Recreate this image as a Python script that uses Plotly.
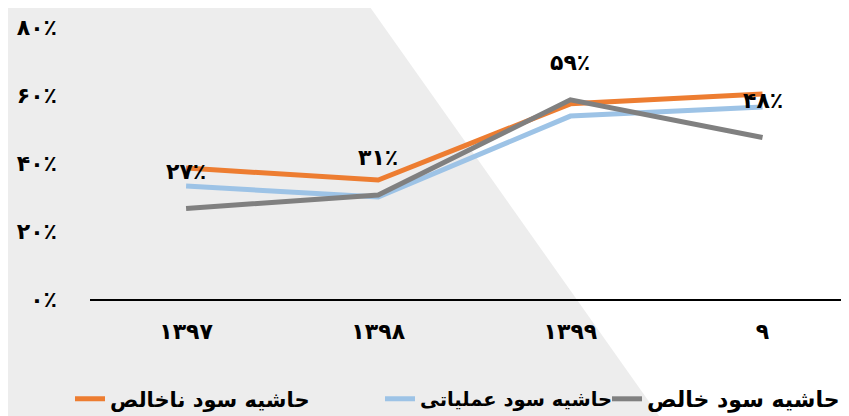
import plotly.graph_objects as go

years = ['۱۳۹۷', '۱۳۹۸', '۱۳۹۹', '۹']
gross_margin = [38.5, 35.0, 57.4, 60.3]      # حاشیه سود ناخالص
operating_margin = [33.2, 30.0, 53.8, 56.5]  # حاشیه سود عملیاتی
net_margin = [26.6, 30.6, 58.6, 47.5]        # حاشیه سود خالص
net_labels = ['۲۷٪', '۳۱٪', '۵۹٪', '۴۸٪']
y_ticks = [0, 20, 40, 60, 80]
y_tick_text = ['۰٪', '۲۰٪', '۴۰٪', '۶۰٪', '۸۰٪']

# page body has an 8px margin, so the figure starts at (8, 8) in the window
OFF = 8
W, H = 849 - OFF, 416 - OFF
L, R, T, B = 90 - OFF, 0, 27 - OFF, 416 - 299
pw, ph = W - L - R, H - T - B

def px2paper(x, y):
    # window pixels -> paper coords
    x, y = x - OFF, y - OFF
    return (x - L) / pw, (H - B - y) / ph

FONT = 'DejaVu Sans'
big = dict(family=FONT, size=21, color='black', weight='bold')
tick = dict(family=FONT, size=22, color='black', weight='bold')

fig = go.Figure()
series = [
    ('حاشیه سود ناخالص', gross_margin, '#ED7D31', 'legend', 70, 21),
    ('حاشیه سود عملیاتی', operating_margin, '#9DC3E6', 'legend2', 380, 19.5),
    ('حاشیه سود خالص', net_margin, '#808080', 'legend3', 607, 22),
]
for name, vals, col, lg, _, _ in series:
    fig.add_trace(go.Scatter(x=years, y=vals, name=name, mode='lines', legend=lg,
                             line=dict(color=col, width=5)))

for yr, v, t in zip(years, net_margin, net_labels):
    fig.add_annotation(x=yr, y=v, text=t, showarrow=False, yshift=37, font=tick)

# gray diagonal background
pts = [px2paper(0, 0), px2paper(365, 0), px2paper(662, 420), px2paper(0, 420)]
path = 'M ' + ' L '.join(f'{a},{b}' for a, b in pts) + ' Z'
fig.add_shape(type='path', path=path, xref='paper', yref='paper',
              fillcolor='#ededed', line=dict(width=0), layer='below')

legends = {}
for _, _, _, lg, lx, fs in series:
    legends[lg] = dict(orientation='h', xref='container', yref='container',
                       x=(lx - OFF) / W, y=1 - (399 - OFF) / H,
                       xanchor='left', yanchor='middle',
                       font=dict(big, size=fs), bgcolor='rgba(0,0,0,0)',
                       itemwidth=30)

fig.update_layout(
    width=W, height=H,
    margin=dict(l=L, r=R, t=T, b=B, pad=0, autoexpand=False),
    paper_bgcolor='white', plot_bgcolor='rgba(0,0,0,0)',
    font=big,
    showlegend=True,
    **legends,
)
fig.update_xaxes(range=[-0.5, 3.45], showgrid=False, zeroline=False,
                 showline=True, linecolor='black', linewidth=1.5,
                 tickfont=tick, ticks='', ticklabelstandoff=12)
fig.update_yaxes(range=[0, 80], tickvals=y_ticks, ticktext=y_tick_text,
                 showgrid=False, zeroline=False, showline=False,
                 tickfont=tick, ticks='', ticklabelstandoff=32)

fig.write_html('out.html')
